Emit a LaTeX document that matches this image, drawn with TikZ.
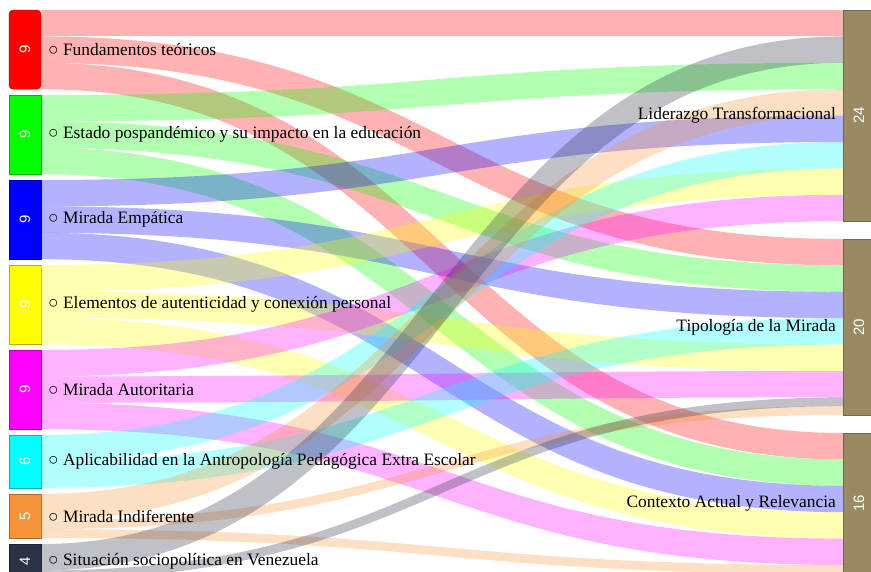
\documentclass[tikz,border=0pt]{standalone}
\usepackage{fontspec}
\setmainfont{Liberation Serif}
\newfontfamily\valfont{Liberation Sans}
\usetikzlibrary{calc}
\usetikzlibrary{positioning}
\definecolor{srcred}{HTML}{FF0000}
\definecolor{srcgreen}{HTML}{00FF00}
\definecolor{srcblue}{HTML}{0000FF}
\definecolor{srcyellow}{HTML}{FFFF00}
\definecolor{srcmagenta}{HTML}{FF00FF}
\definecolor{srccyan}{HTML}{00FFFF}
\definecolor{srcorange}{HTML}{F7943A}
\definecolor{srcdark}{HTML}{2B3245}
\definecolor{dstbrown}{HTML}{998A64}
\tikzset{src style/.style={draw=#1!70!black,fill=#1,anchor=north west,minimum width=32pt,inner sep=0pt,outer sep=0pt}}
\tikzset{dst style/.style={draw=dstbrown!75!black,fill=dstbrown,anchor=north west,minimum width=32pt,inner sep=0pt,outer sep=0pt}}
\tikzset{val style/.style={text=white,rotate=90,font=\valfont\fontsize{15}{15}\selectfont}}
\tikzset{lbl style/.style={font=\fontsize{17.4}{20}\selectfont,inner sep=0pt}}
\tikzset{flow style/.style={draw=#1,draw opacity=0.3}}

\begin{document}
\begin{tikzpicture}[x=1pt,y=-1pt]
    \useasboundingbox (0,0) rectangle (871,571);
    \clip (0,0) rectangle (871,571);
    % left column
    \node[src style=srcred,minimum height=79.2pt,rounded corners=4pt] (fund) at (9,10) {};
    \node[src style=srcgreen,minimum height=79.2pt] (estado) at (9,95) {};
    \node[src style=srcblue,minimum height=79.2pt] (empat) at (9,180) {};
    \node[src style=srcyellow,minimum height=79.2pt] (elem) at (9,265) {};
    \node[src style=srcmagenta,minimum height=79.2pt] (autor) at (9,350) {};
    \node[src style=srccyan,minimum height=52.8pt] (aplic) at (9,435) {};
    \node[src style=srcorange,minimum height=44pt] (indif) at (9,494) {};
    \node[src style=srcdark,minimum height=35.2pt] (socio) at (9,544) {};
    % right column
    \node[dst style,minimum height=211.2pt] (lider) at (843,10) {};
    \node[dst style,minimum height=176pt] (tipo) at (843,239) {};
    \node[dst style,minimum height=140.8pt] (contx) at (843,433) {};
    % flows: colour, source, offset, target, offset, value
    \def\flow[#1,#2,#3,#4,#5,#6]{
        \path ($(#2.north east)+(0,{(#3+#6/2)*8.8})$) coordinate (s)
              ($(#4.north west)+(0,{(#5+#6/2)*8.8})$) coordinate (t);
        \draw[flow style=#1,line width={#6*8.8pt}] (s) .. controls ($(s)+(401,0)$) and ($(t)+(-401,0)$) .. (t);
    }
    \flow[srcred,fund,0,lider,0,3]
    \flow[srcred,fund,3,tipo,0,3]
    \flow[srcred,fund,6,contx,0,3]
    \flow[srcgreen,estado,0,lider,6,3]
    \flow[srcgreen,estado,3,tipo,3,3]
    \flow[srcgreen,estado,6,contx,3,3]
    \flow[srcblue,empat,0,lider,12,3]
    \flow[srcblue,empat,3,tipo,6,3]
    \flow[srcblue,empat,6,contx,6,3]
    \flow[srcyellow,elem,0,lider,18,3]
    \flow[srcyellow,elem,3,tipo,12,3]
    \flow[srcyellow,elem,6,contx,9,3]
    \flow[srcmagenta,autor,0,lider,21,3]
    \flow[srcmagenta,autor,3,tipo,15,3]
    \flow[srcmagenta,autor,6,contx,12,3]
    \flow[srccyan,aplic,0,lider,15,3]
    \flow[srccyan,aplic,3,tipo,9,3]
    \flow[srcorange,indif,0,lider,9,3]
    \flow[srcorange,indif,3,tipo,19,1]
    \flow[srcorange,indif,4,contx,15,1]
    \flow[srcdark,socio,0,lider,3,3]
    \flow[srcdark,socio,3,tipo,18,1]
    % values
    \node[val style] (fund-v) at (fund.center) {9};
    \node[val style] (estado-v) at (estado.center) {9};
    \node[val style] (empat-v) at (empat.center) {9};
    \node[val style] (elem-v) at (elem.center) {9};
    \node[val style] (autor-v) at (autor.center) {9};
    \node[val style] (aplic-v) at (aplic.center) {6};
    \node[val style] (indif-v) at (indif.center) {5};
    \node[val style] (socio-v) at (socio.center) {4};
    \node[val style] (lider-v) at (lider.center) {24};
    \node[val style] (tipo-v) at (tipo.center) {20};
    \node[val style] (contx-v) at (contx.center) {16};
    % labels
    \node[lbl style,right=7pt of fund] (fund-l) {○ Fundamentos teóricos};
    \node[lbl style,right=7pt of estado] (estado-l) {○ Estado pospandémico y su impacto en la educación};
    \node[lbl style,right=7pt of empat] (empat-l) {○ Mirada Empática};
    \node[lbl style,right=7pt of elem] (elem-l) {○ Elementos de autenticidad y conexión personal};
    \node[lbl style,right=7pt of autor] (autor-l) {○ Mirada Autoritaria};
    \node[lbl style,right=7pt of aplic] (aplic-l) {○ Aplicabilidad en la Antropología Pedagógica Extra Escolar};
    \node[lbl style,right=7pt of indif] (indif-l) {○ Mirada Indiferente};
    \node[lbl style,right=7pt of socio] (socio-l) {○ Situación sociopolítica en Venezuela};
    \node[lbl style,left=7pt of lider] (lider-l) {Liderazgo Transformacional};
    \node[lbl style,left=7pt of tipo] (tipo-l) {Tipología de la Mirada};
    \node[lbl style,left=7pt of contx] (contx-l) {Contexto Actual y Relevancia};
\end{tikzpicture}
\end{document}
